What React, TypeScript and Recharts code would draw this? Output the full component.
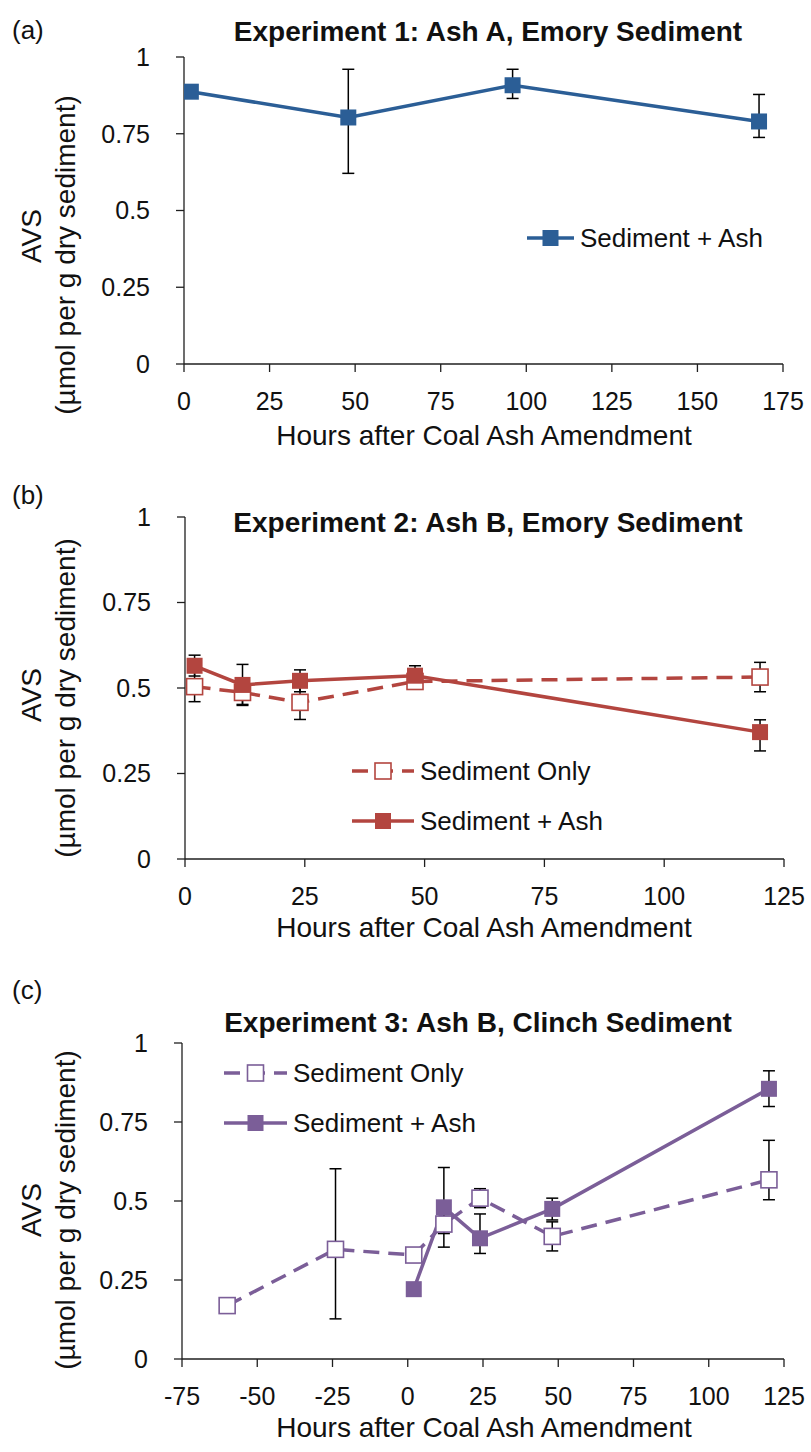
import React from 'react';
import { LineChart, Line, XAxis, YAxis, ErrorBar, Legend } from 'recharts';

const FONT = '"Liberation Sans", Arial, Helvetica, sans-serif';
const AXIS = '#1f1f1f';
const BLUE = '#2B5E96';
const RED = '#B3453F';
const PURPLE = '#7B5E98';

// (a) Experiment 1: Ash A, Emory Sediment
const aHours = [2, 48, 96, 168];
const aAsh = [0.887, 0.803, 0.908, 0.79];
const aAshErr = [[0.02, 0.02], [0.182, 0.157], [0.043, 0.052], [0.052, 0.088]];
const aTicks = [0, 25, 50, 75, 100, 125, 150, 175];

// (b) Experiment 2: Ash B, Emory Sediment
const bOnlyHours = [2, 12, 24, 48, 120];
const bOnly = [0.504, 0.487, 0.458, 0.519, 0.532];
const bOnlyErr = [0.044, 0.035, 0.05, 0.02, 0.043];
const bAshHours = [2, 12, 24, 48, 120];
const bAsh = [0.565, 0.509, 0.521, 0.536, 0.371];
const bAshErr = [[0.03, 0.031], [0.06, 0.06], [0.032, 0.032], [0.029, 0.029], [0.055, 0.036]];
const bTicks = [0, 25, 50, 75, 100, 125];

// (c) Experiment 3: Ash B, Clinch Sediment
const cOnlyHours = [-60, -24, 2, 12, 24, 48, 120];
const cOnly = [0.169, 0.347, 0.329, 0.427, 0.509, 0.388, 0.567];
const cOnlyErr = [[0.01, 0.01], [0.22, 0.255], [0.01, 0.01], [0.03, 0.03], [0.03, 0.03], [0.046, 0.046], [0.063, 0.125]];
const cAshHours = [2, 12, 24, 48, 120];
const cAsh = [0.221, 0.48, 0.382, 0.475, 0.855];
const cAshErr = [[0.01, 0.01], [0.126, 0.126], [0.048, 0.077], [0.035, 0.034], [0.056, 0.057]];
const cTicks = [-75, -50, -25, 0, 25, 50, 75, 100, 125];

const yTicks = [0, 0.25, 0.5, 0.75, 1];

const toRows = (hours: number[], vals: number[], errs: (number | number[])[]) =>
  hours.map((h, i) => ({ hour: h, avs: vals[i], err: errs[i] }));

function squareDot(color: string, open: boolean, size = 16) {
  return (props: any) => {
    const { cx, cy, index } = props;
    if (cx == null || cy == null) return <g key={index} />;
    return (
      <rect
        key={index}
        x={cx - size / 2}
        y={cy - size / 2}
        width={size}
        height={size}
        fill={open ? '#fff' : color}
        stroke={color}
        strokeWidth={open ? 1.6 : 0}
      />
    );
  };
}

type Series = {
  name: string;
  rows: { hour: number; avs: number; err: number | number[] }[];
  color: string;
  open: boolean;
  dashed: boolean;
};

function LegendBox({ items, lineW }: { items: Series[]; lineW: number }) {
  return (
    <div style={{ fontFamily: FONT, fontSize: 26, color: '#111' }}>
      {items.map((it) => (
        <div key={it.name} style={{ display: 'flex', alignItems: 'center', height: 50, whiteSpace: 'nowrap' }}>
          <svg width={lineW} height={20} style={{ display: 'block' }}>
            <line x1={0} x2={lineW} y1={10} y2={10} stroke={it.color} strokeWidth={3.5}
              strokeDasharray={it.dashed ? '16 9' : undefined} />
            <rect x={lineW / 2 - 8} y={2} width={16} height={16}
              fill={it.open ? '#fff' : it.color} stroke={it.color} strokeWidth={it.open ? 1.6 : 0} />
          </svg>
          <span style={{ marginLeft: 6 }}>{it.name}</span>
        </div>
      ))}
    </div>
  );
}

type PanelProps = {
  top: number;
  height: number;
  margin: { top: number; right: number; bottom: number; left: number };
  letter: string;
  letterY: number;
  title: string;
  titleX: number;
  titleY: number;
  xDomain: [number, number];
  xTicks: number[];
  series: Series[];
  legendX: number;
  legendY: number;
  legendLineW: number;
  avsY: number;
  unitY: number;
  xTitleY: number;
};

function Panel(p: PanelProps) {
  const abs = (x: number, y: number, extra: React.CSSProperties = {}): React.CSSProperties => ({
    position: 'absolute', left: x, top: y, transform: 'translate(-50%, -50%)', whiteSpace: 'nowrap',
    fontFamily: FONT, fontSize: 28, color: '#111', ...extra,
  });
  return (
    <div style={{ position: 'absolute', left: 0, top: p.top, width: 811, height: p.height }}>
      <LineChart width={811} height={p.height} margin={p.margin}>
        <XAxis type="number" dataKey="hour" domain={p.xDomain} ticks={p.xTicks} interval={0}
          allowDataOverflow height={40} stroke={AXIS} strokeWidth={1.3} tickSize={8} tickMargin={20}
          tick={{ fill: '#111', fontSize: 25, fontFamily: FONT }} tickLine={{ stroke: AXIS, strokeWidth: 1.3 }} />
        <YAxis type="number" domain={[0, 1]} ticks={yTicks} interval={0} width={60}
          stroke={AXIS} strokeWidth={1.3} tickSize={8} tickMargin={26}
          tick={{ fill: '#111', fontSize: 25, fontFamily: FONT }} tickLine={{ stroke: AXIS, strokeWidth: 1.3 }}
          tickFormatter={(v: number) => String(v)} />
        {p.series.map((s) => (
          <Line key={s.name} data={s.rows} dataKey="avs" name={s.name} type="linear" stroke={s.color}
            strokeWidth={3.5} strokeDasharray={s.dashed ? '16 9' : undefined}
            dot={squareDot(s.color, s.open)} activeDot={false} isAnimationActive={false}>
            <ErrorBar dataKey="err" direction="y" width={6} stroke="#000" strokeWidth={1.5} />
          </Line>
        ))}
        <Legend layout="vertical" align="center" verticalAlign="middle"
          content={() => <LegendBox items={p.series} lineW={p.legendLineW} />}
          wrapperStyle={{ left: p.legendX, top: p.legendY, width: 'auto', height: 'auto' }} />
      </LineChart>
      <div style={abs(12, p.letterY, { transform: 'translate(0, -50%)', fontSize: 26 })}>{p.letter}</div>
      <div style={abs(p.titleX, p.titleY, { fontWeight: 'bold', fontSize: 28 })}>{p.title}</div>
      <div style={abs(32, p.avsY, { transform: 'translate(-50%, -50%) rotate(-90deg)' })}>AVS</div>
      <div style={abs(66, p.unitY, { transform: 'translate(-50%, -50%) rotate(-90deg)' })}>(µmol per g dry sediment)</div>
      <div style={abs(484, p.xTitleY)}>Hours after Coal Ash Amendment</div>
    </div>
  );
}

export default function App() {
  const aSeries: Series[] = [
    { name: 'Sediment + Ash', rows: toRows(aHours, aAsh, aAshErr), color: BLUE, open: false, dashed: false },
  ];
  const bSeries: Series[] = [
    { name: 'Sediment Only', rows: toRows(bOnlyHours, bOnly, bOnlyErr), color: RED, open: true, dashed: true },
    { name: 'Sediment + Ash', rows: toRows(bAshHours, bAsh, bAshErr), color: RED, open: false, dashed: false },
  ];
  const cSeries: Series[] = [
    { name: 'Sediment Only', rows: toRows(cOnlyHours, cOnly, cOnlyErr), color: PURPLE, open: true, dashed: true },
    { name: 'Sediment + Ash', rows: toRows(cAshHours, cAsh, cAshErr), color: PURPLE, open: false, dashed: false },
  ];

  return (
    <div style={{ position: 'absolute', left: 0, top: 0, width: 811, height: 1452, background: '#fff', fontFamily: FONT }}>
      <Panel top={0} height={480} margin={{ top: 57, right: 28, bottom: 76, left: 124 }}
        letter="(a)" letterY={30} title="Experiment 1: Ash A, Emory Sediment" titleX={488} titleY={32}
        xDomain={[0, 175]} xTicks={aTicks} series={aSeries}
        legendX={527} legendY={238 - 25} legendLineW={47}
        avsY={236} unitY={255} xTitleY={436} />
      <Panel top={470} height={470} margin={{ top: 47, right: 27, bottom: 41, left: 125 }}
        letter="(b)" letterY={25} title="Experiment 2: Ash B, Emory Sediment" titleX={488} titleY={53}
        xDomain={[0, 125]} xTicks={bTicks} series={bSeries}
        legendX={352} legendY={771 - 470 - 25} legendLineW={62}
        avsY={225} unitY={228} xTitleY={458} />
      <Panel top={970} height={482} margin={{ top: 73, right: 27, bottom: 53, left: 122 }}
        letter="(c)" letterY={20} title="Experiment 3: Ash B, Clinch Sediment" titleX={478} titleY={53}
        xDomain={[-75, 125]} xTicks={cTicks} series={cSeries}
        legendX={224} legendY={1073 - 970 - 25} legendLineW={63}
        avsY={240} unitY={240} xTitleY={458} />
    </div>
  );
}
